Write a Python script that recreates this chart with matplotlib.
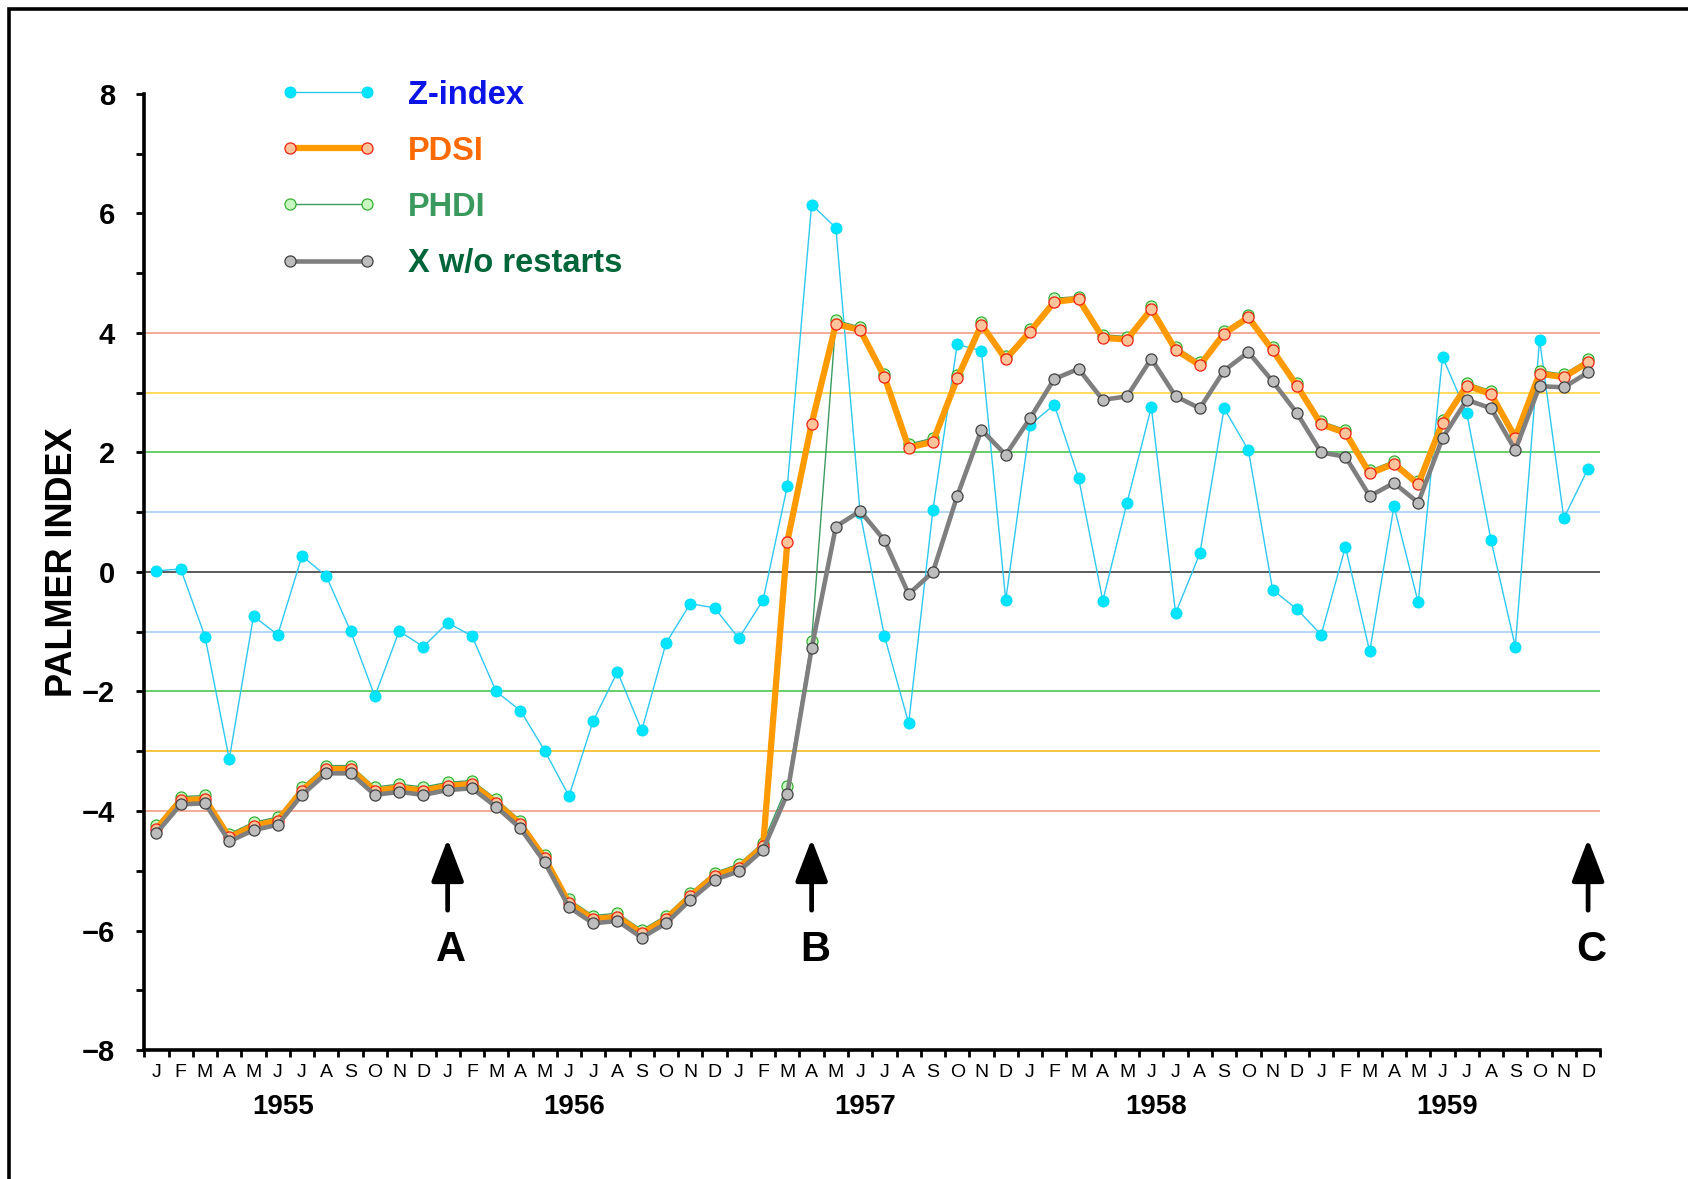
import numpy as np
import matplotlib
matplotlib.use("Agg")
import matplotlib.pyplot as plt
from matplotlib.patches import Rectangle
import matplotlib.transforms as mtransforms

plt.rcParams['font.family'] = ['Liberation Sans', 'DejaVu Sans']

# month letters under each point, years under each block of 12
months = ["J", "F", "M", "A", "M", "J", "J", "A", "S", "O", "N", "D"] * 5
years = ["1955", "1956", "1957", "1958", "1959"]

# monthly values Jan 1955 - Dec 1959
z_index = [0.02, 0.05, -1.08, -3.13, -0.74, -1.05, 0.27, -0.07, -0.99, -2.08, -0.99, -1.25,
           -0.85, -1.07, -2.00, -2.32, -2.99, -3.75, -2.49, -1.67, -2.65, -1.19, -0.53, -0.60,
           -1.11, -0.47, 1.44, 6.15, 5.76, 0.98, -1.07, -2.53, 1.04, 3.81, 3.70, -0.47,
           2.46, 2.80, 1.58, -0.48, 1.16, 2.76, -0.69, 0.31, 2.74, 2.04, -0.30, -0.62,
           -1.05, 0.42, -1.33, 1.10, -0.51, 3.60, 2.66, 0.53, -1.25, 3.89, 0.90, 1.73]

pdsi = [-4.30, -3.82, -3.80, -4.44, -4.25, -4.16, -3.66, -3.30, -3.30, -3.66, -3.61, -3.66,
        -3.58, -3.55, -3.86, -4.22, -4.79, -5.54, -5.81, -5.77, -6.05, -5.81, -5.43, -5.08,
        -4.95, -4.59, 0.51, 2.48, 4.15, 4.05, 3.27, 2.08, 2.18, 3.24, 4.14, 3.56,
        4.02, 4.52, 4.57, 3.92, 3.89, 4.40, 3.72, 3.46, 3.99, 4.26, 3.71, 3.12,
        2.47, 2.33, 1.65, 1.81, 1.47, 2.50, 3.12, 2.98, 2.25, 3.32, 3.26, 3.51]

phdi = [-4.24, -3.76, -3.74, -4.38, -4.19, -4.10, -3.60, -3.24, -3.24, -3.60, -3.55, -3.60,
        -3.52, -3.49, -3.80, -4.16, -4.73, -5.48, -5.75, -5.71, -5.99, -5.75, -5.37, -5.03,
        -4.89, -4.53, -3.58, -1.15, 4.21, 4.10, 3.32, 2.14, 2.24, 3.30, 4.19, 3.61,
        4.06, 4.58, 4.61, 3.97, 3.94, 4.45, 3.77, 3.51, 4.04, 4.30, 3.76, 3.17,
        2.52, 2.38, 1.70, 1.86, 1.52, 2.55, 3.17, 3.03, 2.30, 3.37, 3.31, 3.56]

x_norestart = [-4.37, -3.89, -3.87, -4.51, -4.32, -4.23, -3.73, -3.37, -3.37, -3.73, -3.68, -3.73,
               -3.65, -3.62, -3.93, -4.29, -4.86, -5.61, -5.88, -5.84, -6.12, -5.88, -5.49, -5.15,
               -5.01, -4.65, -3.71, -1.28, 0.76, 1.02, 0.53, -0.37, 0.00, 1.27, 2.38, 1.96,
               2.57, 3.23, 3.40, 2.88, 2.94, 3.57, 2.94, 2.74, 3.37, 3.68, 3.19, 2.66,
               2.00, 1.93, 1.27, 1.49, 1.16, 2.24, 2.88, 2.74, 2.04, 3.11, 3.09, 3.34]

# restart markers
events = ["A", "B", "C"]
event_idx = [12, 27, 59]

# class boundary lines
ref_levels = [4, 3, 2, 1, 0, -1, -2, -3, -4]
ref_colors = ["#F5A58C", "#FFD850", "#5CCB5C", "#AED4F8", "#4D4D4D",
              "#AED4F8", "#5CCB5C", "#F5C030", "#F5A58C"]

fig = plt.figure(figsize=(16.88, 11.79), dpi=100)
ax = fig.add_axes([0.0855, 0.1094, 0.948 - 0.0855, 0.9203 - 0.1094])

t = np.arange(len(z_index))

for lev, col in zip(ref_levels, ref_colors):
    ax.axhline(lev, color=col, lw=1.3, zorder=1)

ax.plot(t, z_index, color="#2CC8F2", lw=1.0, marker="o", ms=8,
        mfc="#00E5FF", mec="#00D8F5", mew=0.6, zorder=3, label="Z-index")
ax.plot(t, phdi, color="#3C9A5F", lw=1.0, marker="o", ms=8,
        mfc="#C8F5C0", mec="#22AA22", mew=0.8, zorder=4, label="PHDI")
ax.plot(t, pdsi, color="#FF9A00", lw=4.5, marker="o", ms=8,
        mfc="#FFC49A", mec="#F02010", mew=0.9, zorder=5, label="PDSI")
ax.plot(t, x_norestart, color="#7F7F7F", lw=3.3, marker="o", ms=8,
        mfc="#BDBDBD", mec="#404040", mew=0.9, zorder=6, label="X w/o restarts")

# legend
handles = {l.get_label(): l for l in ax.get_lines()}
order = ["Z-index", "PDSI", "PHDI", "X w/o restarts"]
label_colors = ["#0A14E6", "#FF6A00", "#3A9A5E", "#00663A"]
leg = ax.legend([handles[k] for k in order], order, loc="upper left",
                bbox_to_anchor=(0.093, 1.015), frameon=False, numpoints=2,
                handlelength=2.98, handletextpad=0.96, labelspacing=0.77,
                prop={"weight": "bold", "size": 23.5}, borderpad=0, borderaxespad=0)
for txt, c in zip(leg.get_texts(), label_colors):
    txt.set_color(c)

ax.set_xlim(-0.5, 59.5)
ax.set_ylim(-8, 8)

ax.set_xticks(t)
ax.set_xticklabels(months, fontsize=14)
ax.tick_params(axis="x", which="major", length=0, pad=10)
ax.set_xticks(np.arange(-0.5, 60, 1), minor=True)
ax.tick_params(axis="x", which="minor", length=5, width=2, direction="out")

ax.set_yticks(np.arange(-8, 9, 2))
ax.set_yticks(np.arange(-7, 8, 2), minor=True)
ax.tick_params(axis="y", which="both", length=6, width=2)
ax.tick_params(axis="y", which="major", labelsize=21, pad=15)
for lab in ax.get_yticklabels():
    lab.set_fontweight("bold")

for side in ["top", "right"]:
    ax.spines[side].set_visible(False)
for side in ["left", "bottom"]:
    ax.spines[side].set_linewidth(2.6)

trans = mtransforms.blended_transform_factory(ax.transData, ax.transAxes)
for k, yr in enumerate(years):
    ax.text(12 * k + 5.2, -0.06, yr, transform=trans, ha="center", va="center",
            fontsize=20, fontweight="bold")

fig.text(0.037, 0.523, "PALMER INDEX", rotation=90, ha="center", va="center",
         fontsize=26, fontweight="bold")

for lab, i in zip(events, event_idx):
    ax.annotate("", xy=(i, -4.47), xytext=(i, -5.66),
                arrowprops=dict(arrowstyle="-|>,head_length=1.3,head_width=0.5",
                                lw=3.4, color="black", mutation_scale=20,
                                shrinkA=0, shrinkB=0), zorder=7)
    ax.text(i + 0.15, -6.33, lab, fontsize=30, fontweight="bold",
            ha="center", va="center")

# outer frame, cut off at right and bottom
fig.add_artist(Rectangle((0.0053, -0.2), 1.5, 0.9924 + 0.2, transform=fig.transFigure,
                         fill=False, lw=2.6, edgecolor="black", clip_on=False))

fig.savefig("out.png", dpi=100)
